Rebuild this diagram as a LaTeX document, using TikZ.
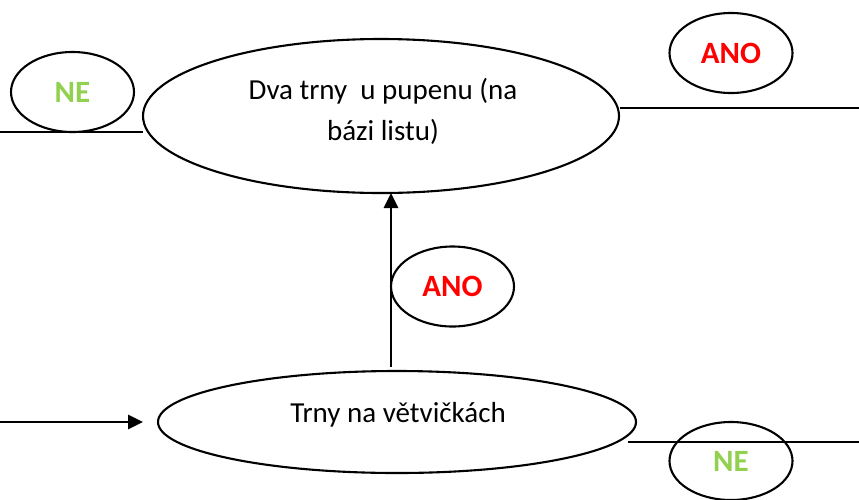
\documentclass[tikz,border=0pt]{standalone}
\usepackage{fontspec}
\setmainfont{Carlito}
\usetikzlibrary{shapes.geometric,arrows.meta}
\definecolor{neg}{HTML}{92D050}
\definecolor{pos}{HTML}{FF0000}
\tikzset{
  line/.style={line width=2.7pt},
  bigell/.style={draw, line width=2.1pt, ellipse, inner sep=0pt},
  tagell/.style={draw, line width=2.1pt, ellipse, inner sep=0pt, minimum width=123pt, minimum height=80pt,
                 font=\fontsize{31}{34}\selectfont\bfseries},
  maintext/.style={font=\fontsize{29}{41}\selectfont, align=center},
  arr/.style={line, -{Triangle[length=15pt,width=14pt]}}
}
\begin{document}
\begin{tikzpicture}[x=1pt,y=-1pt]
\useasboundingbox (0,0) rectangle (859,499);
% main ellipses
\node[bigell, minimum width=476pt, minimum height=154pt] (top) at (381,116) {};
\node[maintext] (toptext) at (383,111) {Dva trny\ \ u pupenu (na\\bázi listu)};
\node[bigell, minimum width=478pt, minimum height=102pt] (bot) at (397,422) {};
\node[maintext] (bottext) at (398,415) {Trny na větvičkách};
% tag ellipses
\node[tagell, text=neg] (ne1) at (72.5,92) {NE};
\node[tagell, text=pos] (ano1) at (731,53) {ANO};
\node[tagell, text=pos] (ano2) at (452.5,286.5) {ANO};
\node[tagell, text=neg, minimum height=78pt] (ne2) at (731,461) {NE};
% coordinates for free ends
\coordinate (l1a) at (0,132);
\coordinate (l1b) at (143,132);
\coordinate (r1a) at (620,108);
\coordinate (r1b) at (859,108);
\coordinate (l2a) at (0,422);
\coordinate (l2b) at (143,422);
\coordinate (r2a) at (628,442);
\coordinate (r2b) at (859,442);
\coordinate (va) at (391,367);
\coordinate (vb) at (391,193);
% connectors
\draw[line] (l1a) -- (l1b);
\draw[line] (r1a) -- (r1b);
\draw[arr] (l2a) -- (l2b);
\draw[line] (r2a) -- (r2b);
\draw[arr] (va) -- (vb);
\end{tikzpicture}
\end{document}
